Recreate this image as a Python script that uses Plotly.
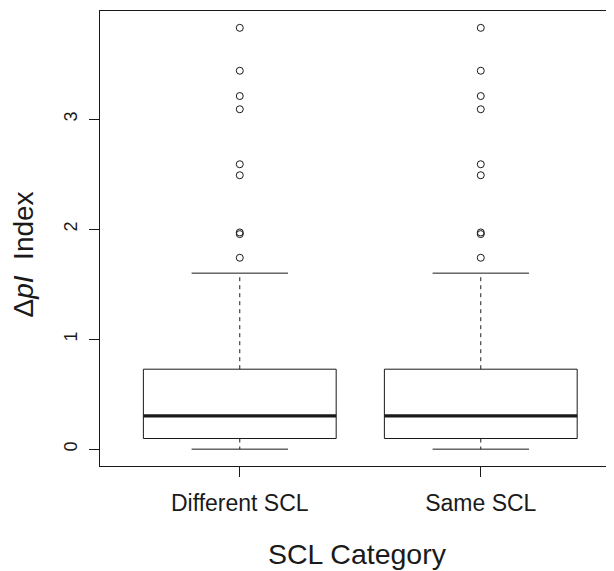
import plotly.graph_objects as go

categories = ["Different SCL", "Same SCL"]
q1 = [0.097, 0.097]
median = [0.303, 0.303]
q3 = [0.727, 0.727]
lower_whisker = [0.0, 0.0]
upper_whisker = [1.60, 1.60]
outliers = [
    [3.83, 3.44, 3.21, 3.09, 2.59, 2.49, 1.97, 1.955, 1.74],
    [3.83, 3.44, 3.21, 3.09, 2.59, 2.49, 1.97, 1.955, 1.74],
]
y_ticks = [0, 1, 2, 3]

BOX_HALF = 0.4
CAP_HALF = 0.2
LINE = "#1a1a1a"
FONT = "Liberation Sans, Arial, Helvetica, sans-serif"

fig = go.Figure()
for i, cat in enumerate(categories):
    c = i + 1
    fig.add_trace(go.Scatter(
        x=[c - BOX_HALF, c + BOX_HALF, c + BOX_HALF, c - BOX_HALF, c - BOX_HALF],
        y=[q1[i], q1[i], q3[i], q3[i], q1[i]],
        mode="lines", line=dict(color=LINE, width=1), hoverinfo="skip", showlegend=False))
    fig.add_trace(go.Scatter(
        x=[c - BOX_HALF, c + BOX_HALF], y=[median[i], median[i]],
        mode="lines", line=dict(color=LINE, width=3.2), showlegend=False))
    fig.add_trace(go.Scatter(
        x=[c, c], y=[q3[i], upper_whisker[i]],
        mode="lines", line=dict(color=LINE, width=1, dash="4px,4px"), showlegend=False))
    fig.add_trace(go.Scatter(
        x=[c, c], y=[q1[i], lower_whisker[i]],
        mode="lines", line=dict(color=LINE, width=1, dash="4px,4px"), showlegend=False))
    fig.add_trace(go.Scatter(
        x=[c - CAP_HALF, c + CAP_HALF], y=[upper_whisker[i], upper_whisker[i]],
        mode="lines", line=dict(color=LINE, width=1), showlegend=False))
    fig.add_trace(go.Scatter(
        x=[c - CAP_HALF, c + CAP_HALF], y=[lower_whisker[i], lower_whisker[i]],
        mode="lines", line=dict(color=LINE, width=1), showlegend=False))
    fig.add_trace(go.Scatter(
        x=[c] * len(outliers[i]), y=outliers[i], mode="markers",
        marker=dict(symbol="circle-open", size=7, color=LINE, line=dict(width=1)),
        showlegend=False))

# page body has an 8px margin: the figure is drawn at (8, 8)
fig.update_layout(
    width=606, height=563,
    margin=dict(l=92, r=0, t=3, b=105),
    plot_bgcolor="white", paper_bgcolor="white",
    font=dict(family=FONT, color="#1a1a1a"),
    annotations=[dict(
        text="Δ<i>pI</i>  Index", textangle=-90, showarrow=False,
        xref="paper", yref="paper", x=(23 - 100) / 514, y=(466 - 254.5) / 455,
        xanchor="center", yanchor="middle", font=dict(size=28),
    )],
)
fig.update_xaxes(
    range=[0.42, 0.42 + 514 / 241], tickmode="array", tickvals=[1, 2], ticktext=categories,
    ticks="outside", ticklen=10, tickcolor=LINE, tickwidth=1,
    tickfont=dict(size=23), ticklabelstandoff=6, automargin=False,
    showline=True, mirror=True, linecolor=LINE, linewidth=1,
    showgrid=False, zeroline=False,
    title=dict(text="SCL Category", font=dict(size=28.5), standoff=29),
)
fig.update_yaxes(
    range=[-0.153, 3.983], tickmode="array", tickvals=y_ticks, ticktext=[str(v) for v in y_ticks],
    ticks="outside", ticklen=10, tickcolor=LINE, tickwidth=1, tickangle=-90,
    tickfont=dict(size=18), ticklabelstandoff=5, automargin=False,
    showline=True, mirror=False, linecolor=LINE, linewidth=1,
    showgrid=False, zeroline=False,
)
fig.write_html("out.html")
